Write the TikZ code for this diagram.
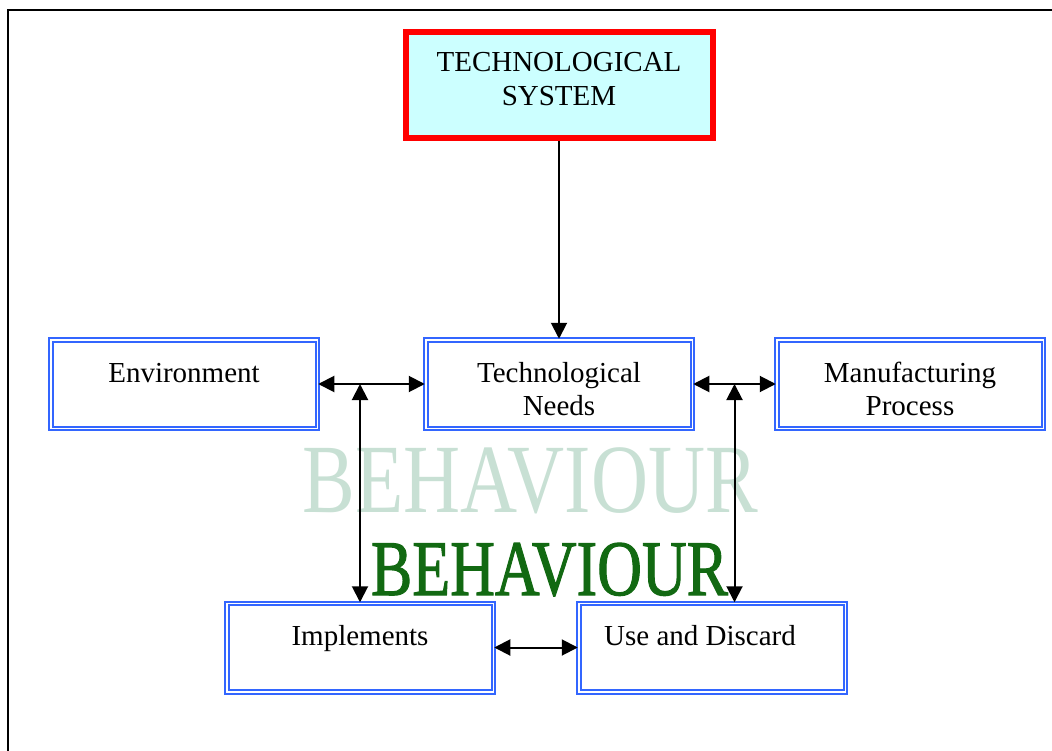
\documentclass[tikz,border=0pt]{standalone}
\usepackage{fontspec}
\setmainfont{Liberation Serif}
\newfontfamily\wordfont[RawFeature={embolden=1.5}]{Liberation Serif}
\usepackage{graphicx}
\usetikzlibrary{arrows.meta}

\definecolor{boxblue}{RGB}{51,102,255}
\definecolor{sysfill}{RGB}{204,255,255}
\definecolor{paleword}{RGB}{200,224,212}
\definecolor{darkword}{RGB}{18,105,18}

\begin{document}
\begin{tikzpicture}[x=1pt, y=-1pt, >={Triangle[length=16pt,width=16pt]},
    box/.style={rectangle, draw=boxblue, double=white, line width=2pt, double distance=1.5pt,
        minimum width=266.5pt, minimum height=88.5pt, inner sep=0pt, align=center,
        text height=42.25pt, text depth=46.25pt, font=\fontsize{29}{33.5}\selectfont},
    twoline/.style={text height=75.75pt, text depth=12.75pt},
    sysbox/.style={rectangle, draw=red, fill=sysfill, line width=6pt, minimum width=307pt,
        minimum height=106pt, inner sep=0pt, align=center, text height=73.5pt, text depth=32.5pt,
        font=\fontsize{29}{33.5}\selectfont},
    link/.style={line width=2pt}
]
    \useasboundingbox (0,0) rectangle (1052,751);

    % Page frame
    \draw[line width=2pt] (1052,10) -- (8,10) -- (8,751);

    % Pale word behind the links
    \node[anchor=base, inner sep=0pt, text=paleword, font=\fontsize{79}{79}\selectfont] (paleword) at (530.5,512) {\scalebox{1}[1.24]{BEHAVIOUR}};

    % Top node
    \node[sysbox] (system) at (559,85) {TECHNOLOGICAL\\SYSTEM};

    % Middle row
    \node[box] (environment) at (184,384) {Environment};
    \node[box, twoline] (needs) at (559,384) {Technological\\Needs};
    \node[box, twoline] (manufacturing) at (910,384) {Manufacturing\\Process};

    % Bottom row
    \node[box] (implements) at (360,647.5) {Implements};
    \node[box] (discard) at (712,647.5) {Use and Discard\hspace*{24pt}};

    % Draw connections
    \draw[link, ->] (system) -- (needs);
    \draw[link, <->] (environment) -- (needs);
    \draw[link, <->] (needs) -- (manufacturing) coordinate[midway] (rightjoin);
    \draw[link, <->] (implements) -- (discard);
    \draw[link, <->] (implements.north) -- (implements.north |- environment.east);
    \draw[link, <->] (rightjoin) -- (rightjoin |- discard.north);

    % Dark word on top
    \node[anchor=base, inner sep=0pt, text=darkword, font=\wordfont\fontsize{62}{62}\selectfont] (behaviour) at (549.5,595) {\scalebox{1}[1.27]{BEHAVIOUR}};
\end{tikzpicture}
\end{document}
